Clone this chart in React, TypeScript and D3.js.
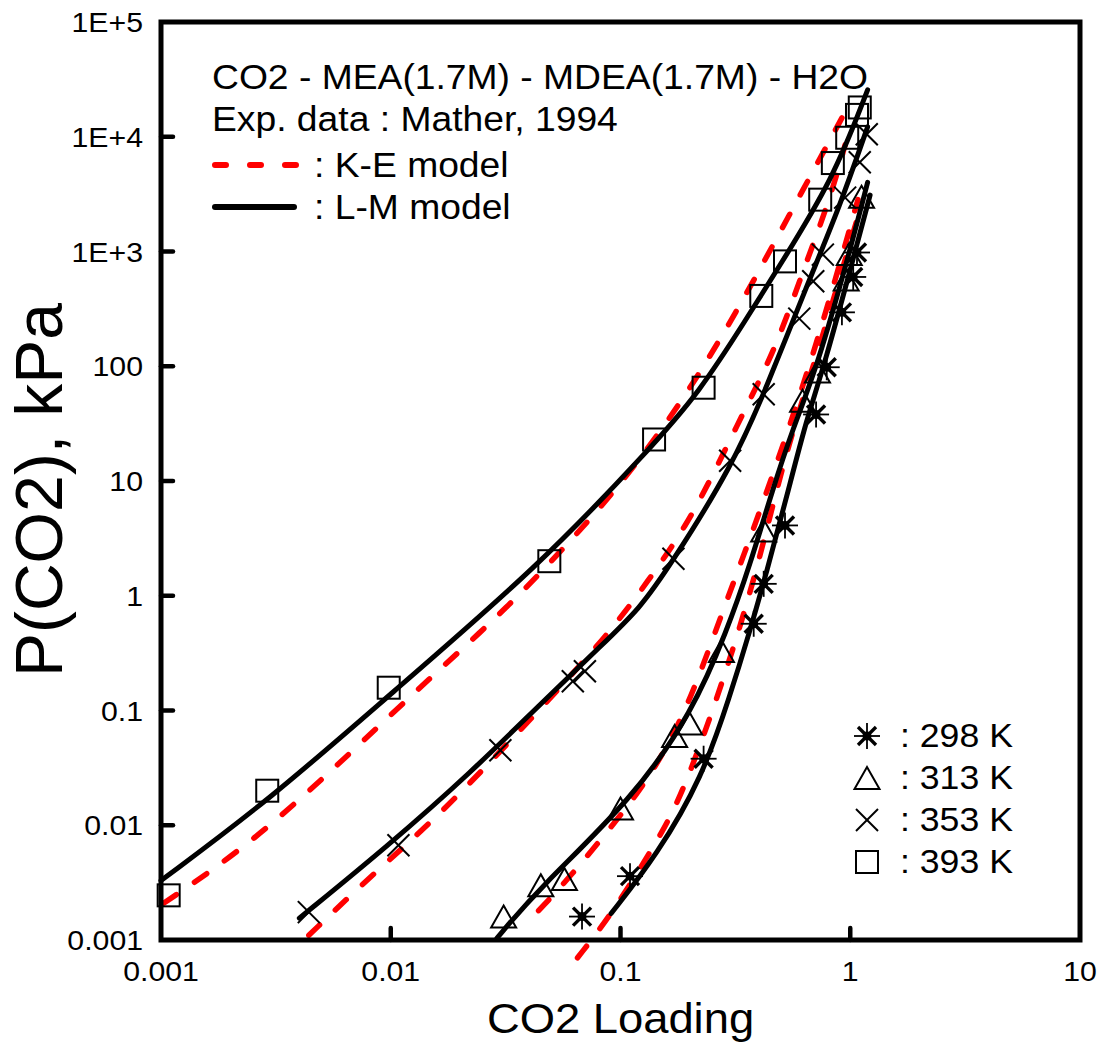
import React from "react";
import * as d3 from "d3";

// experimental points [CO2 loading, P(CO2) kPa]
const exp298: [number, number][] = [
  [0.068, 0.0016], [0.11, 0.0036], [0.23, 0.038], [0.38, 0.57], [0.42, 1.27],
  [0.52, 4.1], [0.71, 38], [0.79, 98], [0.92, 295], [1.03, 600], [1.07, 980],
];
const exp313: [number, number][] = [
  [0.031, 0.0016], [0.045, 0.003], [0.057, 0.0034], [0.1, 0.014], [0.172, 0.06],
  [0.2, 0.077], [0.275, 0.33], [0.42, 3.7], [0.62, 50], [0.72, 90],
  [0.96, 570], [0.99, 950], [1.12, 3000],
];
const exp353: [number, number][] = [
  [0.0044, 0.00175], [0.0108, 0.0067], [0.03, 0.045], [0.062, 0.18], [0.07, 0.22],
  [0.17, 2.1], [0.3, 15], [0.42, 57], [0.6, 260], [0.69, 550], [0.76, 940],
  [0.95, 2950], [1.1, 6000], [1.18, 10500],
];
const exp393: [number, number][] = [
  [0.00108, 0.00245], [0.0029, 0.02], [0.0098, 0.158], [0.049, 2.0], [0.14, 23],
  [0.23, 65], [0.41, 410], [0.52, 820], [0.74, 2830], [0.84, 5900], [0.97, 9800],
  [1.07, 15500], [1.1, 18000],
];

// L-M model (solid black)
const lm298: [number, number][] = [
  [0.091, 0.0017], [0.144, 0.0055], [0.227, 0.026], [0.3, 0.135], [0.365, 0.486],
  [0.433, 1.62], [0.53, 7.4], [0.646, 35], [0.77, 100], [1.05, 1000], [1.22, 3100],
];
const lm313: [number, number][] = [
  [0.029, 0.00104], [0.044, 0.0028], [0.113, 0.017], [0.206, 0.098], [0.29, 0.49],
  [0.365, 1.82], [0.46, 8.5], [0.56, 28], [0.72, 100], [0.995, 1000], [1.19, 4000],
];
const lm353: [number, number][] = [
  [0.004, 0.00155], [0.0098, 0.0067], [0.0226, 0.0295], [0.044, 0.11], [0.085, 0.39],
  [0.121, 0.77], [0.164, 1.82], [0.307, 13.5], [0.433, 66], [0.646, 500],
  [0.9, 2460], [1.19, 12200],
];
const lm393: [number, number][] = [
  [0.001, 0.0033], [0.003, 0.017], [0.0098, 0.135], [0.044, 1.8], [0.134, 19],
  [0.22, 59], [0.354, 260], [0.49, 740], [0.84, 4200], [1.19, 25600],
];

// K-E model (red dashed)
const ke298: [number, number][] = [
  [0.065, 0.0007], [0.092, 0.0017], [0.138, 0.0063], [0.184, 0.017], [0.29, 0.22],
  [0.39, 1.6], [0.49, 10.4], [0.6, 42], [0.74, 155], [0.95, 850], [1.12, 2560],
];
const ke313: [number, number][] = [
  [0.044, 0.0018], [0.06, 0.0035], [0.094, 0.0104], [0.134, 0.026], [0.194, 0.098],
  [0.278, 0.73], [0.39, 4.4], [0.545, 30], [0.7, 140], [0.9, 770], [1.08, 2830],
];
const ke353: [number, number][] = [
  [0.0044, 0.0011], [0.0078, 0.0033], [0.0163, 0.0122], [0.035, 0.061], [0.084, 0.4],
  [0.134, 1.4], [0.194, 4.1], [0.26, 12.7], [0.354, 45], [0.478, 150], [0.62, 660],
  [0.815, 2830], [0.95, 8500],
];
const ke393: [number, number][] = [
  [0.00103, 0.0021], [0.0025, 0.007], [0.0068, 0.044], [0.0147, 0.19], [0.032, 0.77],
  [0.066, 3.6], [0.106, 10.8], [0.186, 49], [0.32, 295], [0.53, 1900], [0.92, 14600],
];

const xTicks = [0.001, 0.01, 0.1, 1, 10];
const xTickLabels = ["0.001", "0.01", "0.1", "1", "10"];
const yTicks = [0.001, 0.01, 0.1, 1, 10, 100, 1000, 10000, 100000];
const yTickLabels = ["0.001", "0.01", "0.1", "1", "10", "100", "1E+3", "1E+4", "1E+5"];

const legendTemps = ["298 K", "313 K", "353 K", "393 K"];
const headerLines = ["CO2 - MEA(1.7M) - MDEA(1.7M) - H2O", "Exp. data : Mather, 1994"];

const W = 1104;
const H = 1048;
const left = 161;
const right = 1080;
const top = 22;
const bottom = 940;
const font = "Arial, 'Liberation Sans', Helvetica, sans-serif";

const x = d3.scaleLog().domain([0.001, 10]).range([left, right]);
const y = d3.scaleLog().domain([0.001, 100000]).range([bottom, top]);

// smooth curve through the read-off model points
const line = d3
  .line<[number, number]>()
  .x((d) => x(d[0]))
  .y((d) => y(d[1]))
  .curve(d3.curveBasis);

// marker drawers
function Star({ cx, cy }: { cx: number; cy: number }) {
  const a = 13;
  const b = 9;
  return (
    <g stroke="black" strokeLinecap="butt">
      <line x1={cx - a} y1={cy} x2={cx + a} y2={cy} strokeWidth={1.8} />
      <line x1={cx} y1={cy - a} x2={cx} y2={cy + a} strokeWidth={1.8} />
      <line x1={cx - b} y1={cy - b} x2={cx + b} y2={cy + b} strokeWidth={3.4} />
      <line x1={cx - b} y1={cy + b} x2={cx + b} y2={cy - b} strokeWidth={3.4} />
      <circle cx={cx} cy={cy} r={4.5} fill="black" stroke="none" />
    </g>
  );
}
function Tri({ cx, cy }: { cx: number; cy: number }) {
  const w = 12.5;
  const h = 11;
  return (
    <path
      d={`M${cx},${cy - h} L${cx + w},${cy + h} L${cx - w},${cy + h} Z`}
      fill="none"
      stroke="black"
      strokeWidth={2}
    />
  );
}
function Cross({ cx, cy }: { cx: number; cy: number }) {
  const s = 11;
  return (
    <g stroke="black" strokeWidth={2}>
      <line x1={cx - s} y1={cy - s} x2={cx + s} y2={cy + s} />
      <line x1={cx - s} y1={cy + s} x2={cx + s} y2={cy - s} />
    </g>
  );
}
function Sq({ cx, cy }: { cx: number; cy: number }) {
  const s = 11;
  return <rect x={cx - s} y={cy - s} width={2 * s} height={2 * s} fill="none" stroke="black" strokeWidth={2} />;
}

const markers = [Star, Tri, Cross, Sq];
const expSets = [exp298, exp313, exp353, exp393];
const lmSets = [lm298, lm313, lm353, lm393];
const keSets = [ke298, ke313, ke353, ke393];

const stretch = 1.08;
function T({ x: tx, y: ty, size, anchor = "start", children }: any) {
  return (
    <text
      transform={`translate(${tx},${ty}) scale(${stretch},1)`}
      fontSize={size}
      fontFamily={font}
      textAnchor={anchor}
      fill="black"
    >
      {children}
    </text>
  );
}

export default function App() {
  return (
    <div style={{ position: "absolute", left: 0, top: 0 }}>
      <svg width={W} height={H} style={{ display: "block", background: "white" }}>
        {/* model curves */}
        {keSets.map((d, i) => (
          <path
            key={"ke" + i}
            d={line(d) || ""}
            fill="none"
            stroke="#ff0000"
            strokeWidth={5.5}
            strokeDasharray="15 22"
            strokeLinecap="round"
          />
        ))}
        {lmSets.map((d, i) => (
          <path
            key={"lm" + i}
            d={line(d) || ""}
            fill="none"
            stroke="black"
            strokeWidth={5}
            strokeLinecap="round"
          />
        ))}
        {/* experimental points */}
        {expSets.map((d, i) => {
          const M = markers[i];
          return d.map((p, j) => <M key={i + "-" + j} cx={x(p[0])} cy={y(p[1])} />);
        })}

        {/* frame */}
        <rect x={left} y={top} width={right - left} height={bottom - top} fill="none" stroke="black" strokeWidth={5} />
        {/* inner ticks */}
        {xTicks.slice(1, -1).map((t) => (
          <line key={"xt" + t} x1={x(t)} x2={x(t)} y1={bottom} y2={bottom - 12} stroke="black" strokeWidth={4.5} strokeLinecap="round" />
        ))}
        {yTicks.slice(1, -1).map((t) => (
          <line key={"yt" + t} x1={left} x2={left + 12} y1={y(t)} y2={y(t)} stroke="black" strokeWidth={4.5} strokeLinecap="round" />
        ))}

        {/* tick labels */}
        {xTicks.map((t, i) => (
          <T key={"xl" + t} x={x(t)} y={981} size={28} anchor="middle">
            {xTickLabels[i]}
          </T>
        ))}
        {yTicks.map((t, i) => (
          <T key={"yl" + t} x={143} y={y(t) + 10} size={28} anchor="end">
            {yTickLabels[i]}
          </T>
        ))}

        {/* axis titles */}
        <T x={(left + right) / 2} y={1033} size={42} anchor="middle">
          CO2 Loading
        </T>
        <text
          transform={`translate(62,490) rotate(-90)`}
          fontSize={66}
          fontFamily={font}
          textAnchor="middle"
        >
          P(CO2), kPa
        </text>

        {/* header legend */}
        {headerLines.map((s, i) => (
          <T key={"h" + i} x={212} y={89 + i * 42} size={34.5}>
            {s}
          </T>
        ))}
        <line x1={215} x2={297} y1={165} y2={165} stroke="#ff0000" strokeWidth={6} strokeDasharray="11 24" strokeLinecap="round" />
        <T x={314} y={177} size={34.5}>
          : K-E model
        </T>
        <line x1={215} x2={294} y1={207} y2={207} stroke="black" strokeWidth={6} strokeLinecap="round" />
        <T x={314} y={219} size={34.5}>
          : L-M model
        </T>

        {/* temperature legend */}
        {legendTemps.map((s, i) => {
          const M = markers[i];
          const cy = 736 + i * 42;
          return (
            <g key={"lg" + i}>
              <M cx={867} cy={cy} />
              <T x={900} y={cy + 11} size={33}>
                : {s}
              </T>
            </g>
          );
        })}
      </svg>
    </div>
  );
}
